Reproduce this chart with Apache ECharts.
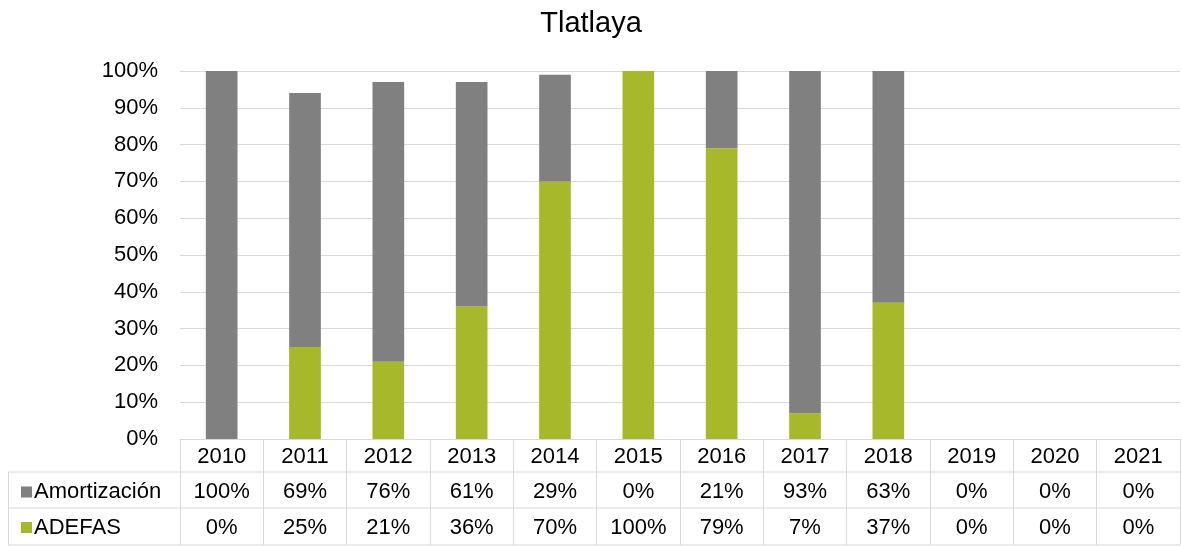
<!DOCTYPE html>
<html>
<head>
<meta charset="utf-8">
<script src="https://cdn.jsdelivr.net/npm/echarts@6/dist/echarts.min.js"></script>
<style>
html,body{margin:0;padding:0;background:#fff;}
#chart{width:1182px;height:546px;}
</style>
</head>
<body>
<div id="chart"></div>
<script>
const title = 'Tlatlaya';
const years = ['2010','2011','2012','2013','2014','2015','2016','2017','2018','2019','2020','2021'];
const amortizacion = [100, 69, 76, 61, 29, 0, 21, 93, 63, 0, 0, 0];
const adefas = [0, 25, 21, 36, 70, 100, 79, 7, 37, 0, 0, 0];
const yTicks = [0,10,20,30,40,50,60,70,80,90,100];

const FONT = '"Liberation Sans", Arial, sans-serif';
const GRID = '#d9d9d9';
const GRAY = '#808080';
const GREEN = '#a7b82a';
const FS = 22;

const chart = echarts.init(document.getElementById('chart'));
const gridLeft = 180, gridRight = 2, gridTop = 71, gridBottom = 107;
const W = 1182, H = 546;
const axisY = H - gridBottom;
const row1 = axisY + 33, row2 = axisY + 69, row3 = H - 1;

const legendCommon = {
  orient: 'vertical', left: 16,
  itemWidth: 11, itemHeight: 11, icon: 'rect',
  textStyle: {fontFamily: FONT, fontSize: FS, color: '#000', padding: [0,0,0,-3]}
};

chart.setOption({
  animation: false,
  backgroundColor: '#fff',
  title: {
    text: title, left: 'center', top: 4,
    textStyle: {fontFamily: FONT, fontSize: 29, fontWeight: 'normal', color: '#000'}
  },
  legend: [
    Object.assign({data: ['Amortización'], top: (row1 + row2) / 2 - 14}, legendCommon),
    Object.assign({data: ['ADEFAS'], top: (row2 + row3) / 2 - 15}, legendCommon)
  ],
  grid: {left: gridLeft, right: gridRight, top: gridTop, bottom: gridBottom},
  xAxis: {
    type: 'category', data: years,
    axisLine: {lineStyle: {color: GRID, width: 1}},
    axisTick: {show: true, interval: 0, length: gridBottom - 1, lineStyle: {color: GRID, width: 1}},
    axisLabel: {
      interval: 0, margin: 0,
      fontFamily: FONT, fontSize: FS, color: '#000', lineHeight: 35.5, verticalAlign: 'top',
      formatter: function (v, i) { return v + '\n' + amortizacion[i] + '%\n' + adefas[i] + '%'; }
    }
  },
  yAxis: {
    type: 'value', min: yTicks[0], max: yTicks[yTicks.length-1], interval: 10,
    axisLine: {show: false}, axisTick: {show: false},
    splitLine: {lineStyle: {color: GRID, width: 1}},
    axisLabel: {fontFamily: FONT, fontSize: FS, color: '#000', margin: 22, formatter: '{value}%'}
  },
  series: [
    {name: 'ADEFAS', type: 'bar', stack: 's', data: adefas, barWidth: '38%', itemStyle: {color: GREEN}},
    {name: 'Amortización', type: 'bar', stack: 's', data: amortizacion, barWidth: '38%', itemStyle: {color: GRAY}}
  ],
  graphic: [
    {type: 'line', shape: {x1: 8, y1: row1, x2: W - gridRight, y2: row1}, style: {stroke: GRID, lineWidth: 1}, silent: true},
    {type: 'line', shape: {x1: 8, y1: row2, x2: W - gridRight, y2: row2}, style: {stroke: GRID, lineWidth: 1}, silent: true},
    {type: 'line', shape: {x1: 8, y1: row3, x2: W - gridRight, y2: row3}, style: {stroke: GRID, lineWidth: 1}, silent: true},
    {type: 'line', shape: {x1: 8.5, y1: row1, x2: 8.5, y2: row3}, style: {stroke: GRID, lineWidth: 1}, silent: true}
  ]
});
</script>
</body>
</html>
